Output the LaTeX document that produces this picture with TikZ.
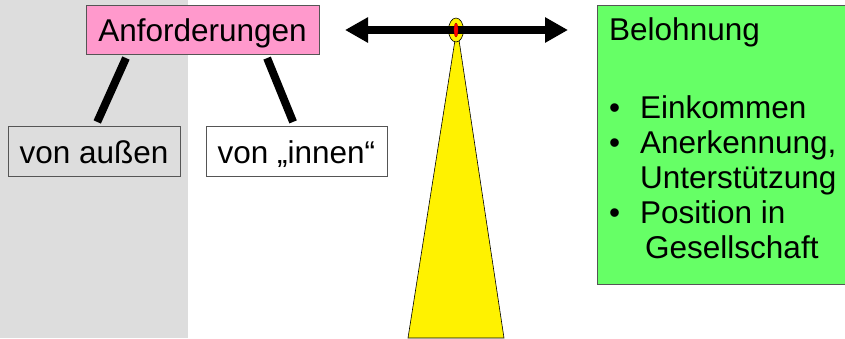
\documentclass[tikz,border=0pt]{standalone}
\usepackage{fontspec}
\setmainfont{Liberation Sans}
\usepackage{tikz}
\usetikzlibrary{arrows.meta,shapes.geometric}
\definecolor{hgrau}{HTML}{DDDDDD}
\definecolor{rosa}{HTML}{FF99CC}
\definecolor{hgruen}{HTML}{66FF66}
\definecolor{rahmen}{HTML}{555555}

\begin{document}
\begin{tikzpicture}[x=1pt,y=-1pt,font=\fontsize{31.5}{35}\selectfont,
  kasten/.style={draw=rahmen,line width=.8pt,inner sep=0pt,text height=24pt,text depth=0pt},
  balken/.style={line width=8pt,shorten <=4pt,shorten >=4pt}]
\useasboundingbox (0,0) rectangle (845,338);
\fill[hgrau] (0,0) rectangle (188,338);
\node[kasten,fill=rosa,minimum width=233,minimum height=49] (anforderungen) at (202.5,29.5) {Anforderungen};
\node[kasten,fill=hgrau,minimum width=172,minimum height=50] (aussen) at (94,151) {von außen};
\node[kasten,fill=white,minimum width=181,minimum height=50] (innen) at (296.5,151) {von „innen“};
\draw[balken] ([xshift=42]anforderungen.south west) -- ([xshift=88]aussen.north west);
\draw[balken] ([xshift=180]anforderungen.south west) -- ([xshift=89]innen.north west);
\draw[fill=yellow,line width=.6pt] (455,40) -- (459,40) -- (504,338) -- (408,338) -- cycle;
\node[ellipse,draw,fill=yellow,line width=.6pt,inner sep=0pt,minimum width=15,minimum height=24] (drehpunkt) at (456,30) {};
\coordinate (links) at (345,30);
\coordinate (rechts) at (568,30);
\draw[line width=8pt,{Triangle[length=23pt,width=24pt]}-{Triangle[length=23pt,width=24pt]}] (links) -- (rechts);
\node[ellipse,fill=red,draw=red!60!black,line width=.3pt,inner sep=0pt,minimum width=4,minimum height=14] (achse) at (drehpunkt.center) {};
\node[draw=rahmen,line width=.8pt,fill=hgruen,anchor=north west,minimum width=255,minimum height=279] (belohnung) at (597,5) {};
\node[anchor=north west,align=left,inner sep=0pt] (liste) at (609,17.5) {Belohnung\\[43pt]
\makebox[31pt][l]{\textbullet}Einkommen\\
\makebox[31pt][l]{\textbullet}Anerkennung,\\
\hspace*{31pt}Unterstützung\\
\makebox[31pt][l]{\textbullet}Position in\\
\hspace*{36pt}Gesellschaft};
\end{tikzpicture}
\end{document}
